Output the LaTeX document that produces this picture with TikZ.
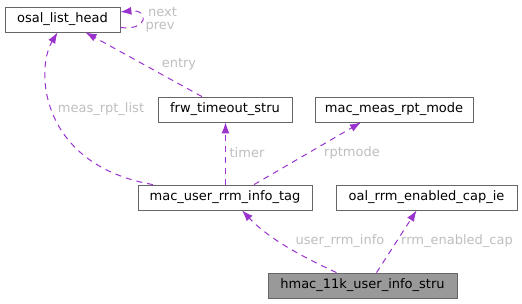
\documentclass[tikz,border=0pt]{standalone}
\usepackage{fontspec}
\setmainfont{DejaVu Sans}
\usetikzlibrary{arrows.meta}
\definecolor{edgec}{HTML}{9A32CD}
\definecolor{labc}{HTML}{BEBEBE}
\definecolor{boxline}{HTML}{666666}
\tikzset{
  cls/.style={draw=boxline, line width=0.8pt, fill=white, minimum height=25pt, inner sep=0pt, font=\fontsize{13}{15}\selectfont},
  rel/.style={draw=edgec, line width=1pt, dash pattern=on 6pt off 5pt, -{Latex[length=11pt,width=8pt]}},
  lab/.style={text=labc, font=\fontsize{13}{15}\selectfont, inner sep=1pt}
}
\begin{document}
\begin{tikzpicture}[x=1pt,y=-1pt]
\useasboundingbox (0,0) rectangle (522,304);
\node[cls, minimum width=115pt] (olh) at (62.5,19.5) {osal\_list\_head};
\node[cls, minimum width=134pt] (frw) at (225,109.5) {frw\_timeout\_stru};
\node[cls, minimum width=158pt] (mrm) at (394,109.5) {mac\_meas\_rpt\_mode};
\node[cls, minimum width=174pt] (mur) at (225,197.5) {mac\_user\_rrm\_info\_tag};
\node[cls, minimum width=181pt] (oal) at (426.5,197.5) {oal\_rrm\_enabled\_cap\_ie};
\node[cls, minimum width=189pt, fill=black!40] (hm) at (362.5,285.5) {hmac\_11k\_user\_info\_stru};

\draw[rel] ([xshift=-26pt]hm.north) .. controls (305,258) and (270,240) .. ([xshift=17pt]mur.south);
\node[lab] at (340,241) {user\_rrm\_info};
\draw[rel] ([xshift=14pt]hm.north) -- ([xshift=81pt]oal.south west);
\node[lab] at (457,241) {rrm\_enabled\_cap};

\draw[rel] ([xshift=0.5pt]mur.north) -- ([xshift=0.5pt]frw.south);
\node[lab] at (247,153) {timer};
\draw[rel] ([xshift=29pt]mur.north) -- ([xshift=-33pt]mrm.south);
\node[lab] at (352,153) {rptmode};

\draw[rel] ([xshift=-72pt]mur.north) .. controls (40,165) and (35,70) .. ([xshift=-5pt]olh.south);
\node[lab] at (101,109) {meas\_rpt\_list};
\draw[rel] ([xshift=-23pt]frw.north) -- ([xshift=23pt]olh.south);
\node[lab] at (179,64) {entry};

\draw[rel] ([yshift=-8pt]olh.east) .. controls (149,31) and (149,9) .. ([yshift=7.5pt]olh.east);
\node[lab] at (162.5,12) {next};
\node[lab] at (160,27) {prev};
\end{tikzpicture}
\end{document}
